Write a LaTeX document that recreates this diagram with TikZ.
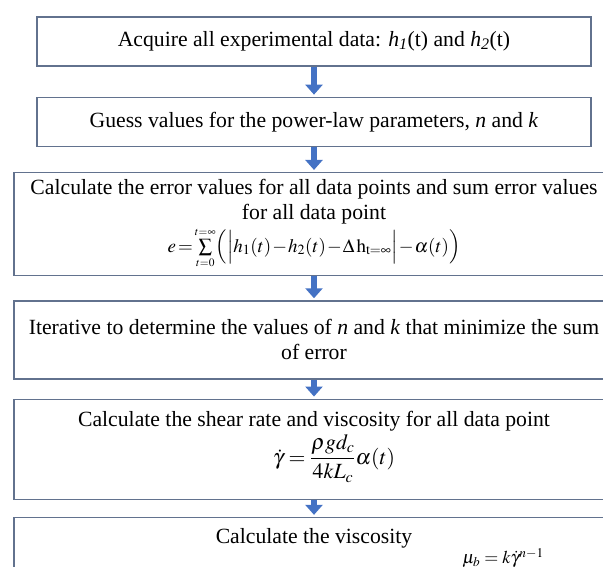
\documentclass[tikz,border=0pt]{standalone}
\usepackage{mathptmx}
\usepackage{fontspec}
\setmainfont{Liberation Serif}
\usetikzlibrary{positioning,arrows.meta}
\definecolor{boxline}{RGB}{98,114,142}
\definecolor{flowblue}{RGB}{68,114,196}
\newcommand{\hvar}[1]{\textit{h}\textsubscript{\textit{#1}}(t)}
\newcommand{\tightmath}{\medmuskip=1mu\thickmuskip=2mu}

\begin{document}
\begin{tikzpicture}[x=1pt,y=-1pt,
    stage/.style={draw=boxline, line width=1.3pt, align=center, inner sep=2pt,
                  font=\fontsize{21.7}{25}\selectfont},
    wide/.style={stage, minimum width=600pt},
    flow/.style={draw=flowblue, line width=6pt, shorten >=2pt,
                 -{Triangle[length=10pt,width=17pt]}}]
  \useasboundingbox (0,0) rectangle (603,566);
  \clip (0,0) rectangle (603,566);
  \node[stage, minimum width=554pt, minimum height=49pt] (acquire) at (314,41.5)
    {Acquire all experimental data: \hvar{1} and \hvar{2}};
  \node[stage, minimum width=554pt, minimum height=49pt, below=30pt of acquire] (guess)
    {Guess values for the power-law parameters, \textit{n} and \textit{k}};
  \node[wide, minimum height=103pt, below=25pt of guess] (error)
    {Calculate the error values for all data points and sum error values\\
     for all data point\\[2pt]
     {\fontsize{19}{22}\selectfont\tightmath$e=\sum\limits_{\scriptscriptstyle t=0}^{\scriptscriptstyle t=\infty}\Bigl(\Bigl|h_1(t)-h_2(t)-\Delta\,\mathrm{h}_{\mathrm{t}=\infty}\Bigr|-\alpha(t)\Bigr)$}};
  \node[wide, minimum height=78pt, below=24pt of error] (iterate)
    {Iterative to determine the values of \textit{n} and \textit{k} that minimize the sum\\
     of error};
  \node[wide, minimum height=100pt, below=19pt of iterate] (shear)
    {Calculate the shear rate and viscosity for all data point\\[2pt]
     \hspace*{40pt}$\displaystyle\dot{\gamma}=\frac{\rho g d_c}{4kL_c}\alpha(t)$\\[-2pt]};
  \node[wide, inner ysep=11pt, below=17pt of shear] (visc)
    {Calculate the viscosity\\[-5pt]
     \hspace*{378pt}{\fontsize{18}{18}\selectfont$\mu_b = k\dot{\gamma}^{n-1}$}\\[20pt]};
  \draw[flow] (acquire.south) -- (guess.north);
  \draw[flow] (guess.south) -- (error.north);
  \draw[flow] (error.south) -- (iterate.north);
  \draw[flow] (iterate.south) -- (shear.north);
  \draw[flow] (shear.south) -- (visc.north);
\end{tikzpicture}
\end{document}
